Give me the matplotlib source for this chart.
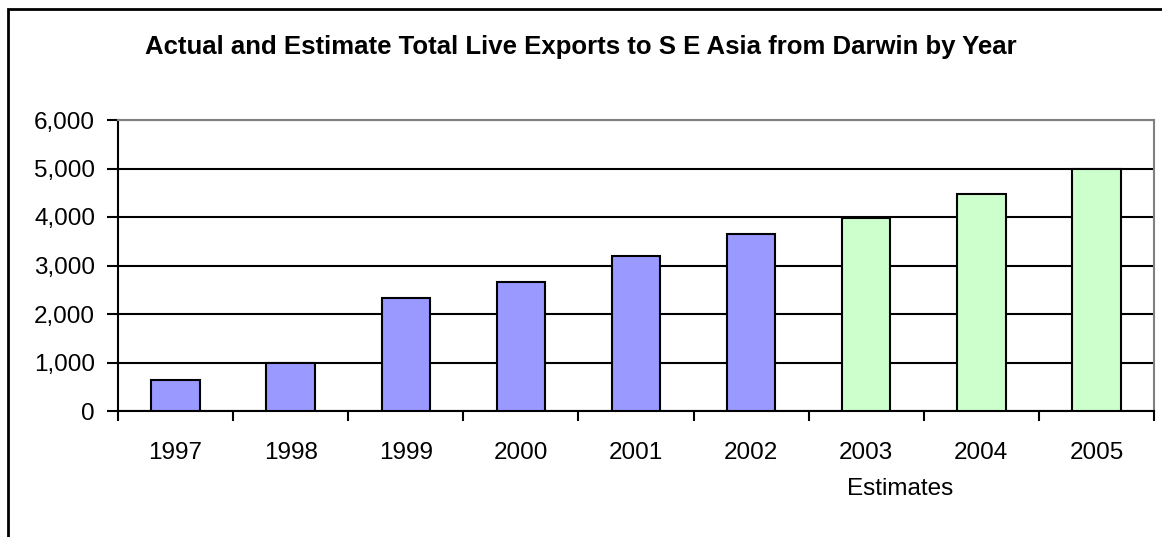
import matplotlib
matplotlib.use("Agg")
import matplotlib.pyplot as plt
from matplotlib.patches import Rectangle
from matplotlib.ticker import FuncFormatter

years = ["1997", "1998", "1999", "2000", "2001", "2002", "2003", "2004", "2005"]
exports = [640, 990, 2330, 2665, 3195, 3655, 3980, 4480, 5000]
is_estimate = [False, False, False, False, False, False, True, True, True]
title = "Actual and Estimate Total Live Exports to S E Asia from Darwin by Year"
xlabel = "Estimates"

plt.rcParams['font.family'] = ['Liberation Sans', 'DejaVu Sans']

W, H = 1162, 537
fig = plt.figure(figsize=(W / 100, H / 100), dpi=100)
ax = fig.add_axes([118 / W, 1 - 411 / H, (1154 - 118) / W, (411 - 120) / H])

colors = ["#CCFFCC" if e else "#9999FF" for e in is_estimate]
x = list(range(len(years)))
ax.bar(x, exports, width=0.42, color=colors, edgecolor="black", linewidth=1.5, zorder=3)

ax.set_xlim(-0.5, len(years) - 0.5)
ax.set_ylim(0, 6000)
ax.set_yticks(range(0, 6001, 1000))
ax.yaxis.set_major_formatter(FuncFormatter(lambda v, p: f"{int(v):,}"))
ax.set_xticks(x)
ax.set_xticklabels(years)
ax.set_xticks([i - 0.5 for i in range(len(years) + 1)], minor=True)
ax.tick_params(axis="x", which="major", length=0, pad=22, labelsize=17.5)
ax.tick_params(axis="x", which="minor", length=7, width=1.5, direction="out")
ax.tick_params(axis="y", length=8, width=1.5, direction="out", pad=8.5, labelsize=17.5)

ax.grid(axis="y", color="black", linewidth=1.5, zorder=1)
ax.set_axisbelow(True)
for s in ["top", "right"]:
    ax.spines[s].set_color("#808080")
    ax.spines[s].set_linewidth(1.5)
for s in ["left", "bottom"]:
    ax.spines[s].set_color("black")
    ax.spines[s].set_linewidth(1.5)

fig.text(581 / W, 1 - 47 / H, title, ha="center", va="center", fontsize=18.5, fontweight="bold")
fig.text(900 / W, 1 - 489 / H, xlabel, ha="center", va="center", fontsize=17.5)

border = Rectangle((8 / W, -0.1), 1.2, 1 - 9 / H + 0.1, transform=fig.transFigure,
                   fill=False, edgecolor="black", linewidth=2, clip_on=False)
fig.patches.append(border)

fig.savefig("out.png", dpi=100)
